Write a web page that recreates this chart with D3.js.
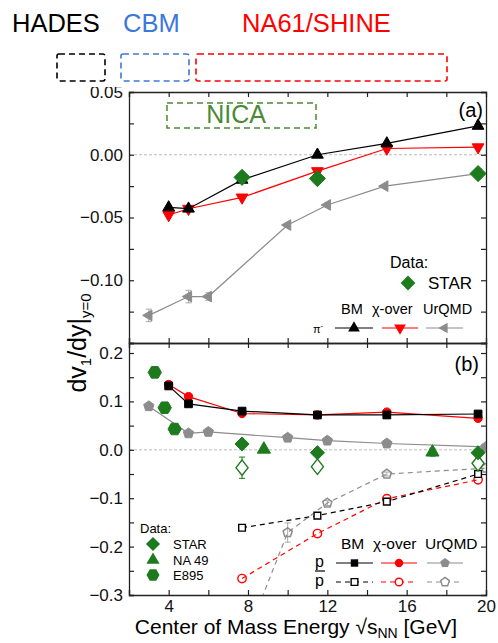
<!DOCTYPE html>
<html>
<head>
<meta charset="utf-8">
<script src="https://d3js.org/d3.v7.min.js"></script>
<style>
  body { margin: 0; background: #fff; }
  text { font-family: Arial, "Liberation Sans", sans-serif; }
</style>
</head>
<body>
<script>
  // ticks
  var xTicks = [2, 4, 6, 8, 10, 12, 14, 16, 18];
  var xLabels = [4, 8, 12, 16, 20];
  var yTicksA = [0.05, 0.025, 0, -0.025, -0.05, -0.075, -0.1, -0.125];
  var yLabelsA = [0.05, 0, -0.05, -0.1];
  var yTicksB = [0.2, 0.15, 0.1, 0.05, 0, -0.05, -0.1, -0.15, -0.2, -0.25];
  var yLabelsB = [0.2, 0.1, 0, -0.1, -0.2, -0.3];

  // panel (a): pi-  [sqrt(s_NN), dv1/dy]
  var piBM = [[4.0, -0.042], [5.0, -0.043], [7.7, -0.020], [11.5, 0.000], [15.0, 0.009], [19.6, 0.023]];
  var piChi = [[4.0, -0.048], [5.0, -0.043], [7.7, -0.034], [11.5, -0.013], [15.0, 0.005], [19.6, 0.006]];
  var piUrqmd = [[3.0, -0.128], [5.0, -0.113], [6.0, -0.113], [10.0, -0.056], [12.0, -0.040], [14.9, -0.025], [19.6, -0.015]];
  var piUrqmdErr = [0.005, 0.005, 0.003, 0, 0, 0, 0];
  var piStar = [[7.7, -0.018], [11.5, -0.019], [19.6, -0.015]];

  // panel (b): protons (solid) and antiprotons (dashed)
  var pBM = [[4.0, 0.132], [5.0, 0.095], [7.7, 0.080], [11.5, 0.072], [15.0, 0.072], [19.6, 0.074]];
  var pChi = [[4.0, 0.135], [5.0, 0.110], [7.7, 0.075], [11.5, 0.072], [15.0, 0.078], [19.6, 0.065]];
  var pUrqmd = [[3.0, 0.090], [5.0, 0.034], [6.0, 0.037], [10.0, 0.025], [12.0, 0.019], [15.0, 0.013], [20.0, 0.006]];
  var pbarBM = [[7.7, -0.161], [11.5, -0.136], [15.0, -0.107], [19.6, -0.050]];
  var pbarChi = [[7.7, -0.266], [11.5, -0.173], [15.0, -0.101], [19.6, -0.062]];
  var pbarUrqmd = [[7.7, -0.41], [10.0, -0.171], [12.0, -0.110], [15.0, -0.050], [20.0, -0.038]];
  var pbarUrqmdErr = [0, 0.02, 0.005, 0.004, 0];
  var pStar = [[7.7, 0.012], [11.5, -0.006], [19.6, -0.006]];
  var pNa49 = [[8.8, 0.001], [17.3, -0.005]];
  var pE895 = [[3.3, 0.160], [3.8, 0.087], [4.3, 0.043]];
  var pbarStar = [[7.7, -0.037], [11.5, -0.035], [19.6, -0.028]];
  var pbarStarErr = [0.022, 0.004, 0.005];

  // experiment labels above the plot
  var experiments = ["HADES", "CBM", "NA61/SHINE"];

  var GREEN = "#1d7a1d", RED = "#ff0000", GRAY = "#8c8c8c", BLUE = "#3c78d8";

  var svg = d3.select("body").append("svg")
    .attr("width", 498)
    .attr("height", 643);

  var x = d3.scaleLinear().domain([2, 20]).range([129, 486]);
  var yA = d3.scaleLinear().domain([-0.15, 0.05]).range([343, 92]);
  var yB = d3.scaleLinear().domain([-0.3, 0.2207]).range([595, 343]);

  // custom symbols
  function polySym(n, rot) {
    return { draw: function(ctx, size) {
      var r = Math.sqrt(size / (0.5 * n * Math.sin(2 * Math.PI / n)));
      for (var i = 0; i < n; i++) {
        var a = rot + i * 2 * Math.PI / n;
        if (i == 0) ctx.moveTo(r * Math.cos(a), r * Math.sin(a));
        else ctx.lineTo(r * Math.cos(a), r * Math.sin(a));
      }
      ctx.closePath();
    } };
  }
  var symDiamond = polySym(4, -Math.PI / 2);
  var symPentagon = polySym(5, -Math.PI / 2);
  var symHexagon = polySym(6, 0);

  function symPath(type, size) { return d3.symbol().type(type).size(size)(); }

  // clip paths
  var defs = svg.append("defs");
  defs.append("clipPath").attr("id", "clipA").append("rect")
    .attr("x", x(2)).attr("y", yA(0.05)).attr("width", x(20) - x(2)).attr("height", yA(-0.15) - yA(0.05));
  defs.append("clipPath").attr("id", "clipB").append("rect")
    .attr("x", x(2)).attr("y", yB(0.2207)).attr("width", x(20) - x(2)).attr("height", yB(-0.3) - yB(0.2207));

  function fmtA(d) { return yLabelsA.indexOf(d) >= 0 ? d3.format(".2f")(d) : ""; }
  function fmtB(d) { return yLabelsB.indexOf(d) >= 0 ? d3.format(".1f")(d) : ""; }

  function styleAxis(g) {
    g.select(".domain").attr("stroke", "#222").attr("stroke-width", 1.3);
    g.selectAll(".tick line").attr("stroke", "#222").attr("stroke-width", 1.2);
    g.selectAll(".tick text").attr("fill", "#111").style("font-size", "17px")
      .style("font-family", "Arial, 'Liberation Sans', sans-serif");
  }

  // zero lines
  svg.append("line").attr("x1", x(2)).attr("x2", x(20)).attr("y1", yA(0)).attr("y2", yA(0))
    .attr("stroke", "#aaa").attr("stroke-width", 0.8).attr("stroke-dasharray", "3,2");
  svg.append("line").attr("x1", x(2)).attr("x2", x(20)).attr("y1", yB(0)).attr("y2", yB(0))
    .attr("stroke", "#aaa").attr("stroke-width", 0.8).attr("stroke-dasharray", "3,2");

  // axes panel (a)
  svg.append("g").attr("transform", "translate(" + x(2) + ",0)")
    .call(d3.axisLeft(yA).tickValues(yTicksA).tickFormat(fmtA).tickSize(-5).tickPadding(6)).call(styleAxis);
  svg.append("g").attr("transform", "translate(" + x(20) + ",0)")
    .call(d3.axisRight(yA).tickValues(yTicksA).tickFormat("").tickSize(-5)).call(styleAxis);
  svg.append("g").attr("transform", "translate(0," + yA(0.05) + ")")
    .call(d3.axisTop(x).tickValues(xTicks).tickFormat("").tickSize(-5)).call(styleAxis);
  svg.append("g").attr("transform", "translate(0," + yA(-0.15) + ")")
    .call(d3.axisBottom(x).tickValues(xTicks).tickFormat("").tickSize(-5)).call(styleAxis);

  // axes panel (b)
  svg.append("g").attr("transform", "translate(" + x(2) + ",0)")
    .call(d3.axisLeft(yB).tickValues(yTicksB.concat([-0.3])).tickFormat(fmtB).tickSize(-5).tickPadding(6)).call(styleAxis);
  svg.append("g").attr("transform", "translate(" + x(20) + ",0)")
    .call(d3.axisRight(yB).tickValues(yTicksB).tickFormat("").tickSize(-5)).call(styleAxis);
  svg.append("g").attr("transform", "translate(0," + yB(0.2207) + ")")
    .call(d3.axisTop(x).tickValues(xTicks).tickFormat("").tickSize(-5)).call(styleAxis);
  svg.append("g").attr("transform", "translate(0," + yB(-0.3) + ")")
    .call(d3.axisBottom(x).tickValues(xTicks.concat([20])).tickFormat(function(d) {
      return xLabels.indexOf(d) >= 0 ? d : "";
    }).tickSize(-5).tickPadding(5)).call(styleAxis);

  // white band on top, cutting the 0.05 label like the original
  svg.append("rect").attr("x", 0).attr("y", 0).attr("width", 498).attr("height", 87).attr("fill", "#fff");

  // header: labels and dashed boxes
  var headX = [12, 123, 242];
  var headColor = ["#000", BLUE, RED];
  var boxX = [[57, 105], [121, 189], [196, 447]];
  svg.selectAll("text.head").data(experiments).enter().append("text")
    .attr("x", function(d, i) { return headX[i]; }).attr("y", 32)
    .style("font-size", "25.5px").attr("fill", function(d, i) { return headColor[i]; })
    .text(function(d) { return d; });
  svg.selectAll("rect.hbox").data(boxX).enter().append("rect")
    .attr("x", function(d) { return d[0]; })
    .attr("y", 54).attr("height", 27)
    .attr("width", function(d) { return d[1] - d[0]; })
    .attr("rx", 2)
    .attr("fill", "none").attr("stroke", function(d, i) { return headColor[i]; })
    .attr("stroke-width", 1.6).attr("stroke-dasharray", "6,4");

  // NICA box
  svg.append("rect").attr("x", 167).attr("y", 103).attr("width", 149).attr("height", 25)
    .attr("fill", "none").attr("stroke", "#4a8a36").attr("stroke-width", 1.5).attr("stroke-dasharray", "6,4");
  svg.append("text").attr("x", 236).attr("y", 123).attr("text-anchor", "middle")
    .style("font-size", "25px").attr("fill", "#4a8a36").text("NICA");

  svg.append("text").attr("x", 483).attr("y", 117).attr("text-anchor", "end").style("font-size", "20px").text("(a)");
  svg.append("text").attr("x", 479).attr("y", 371).attr("text-anchor", "end").style("font-size", "20px").text("(b)");

  // drawing helpers
  function drawLine(g, data, y, color, dash) {
    g.append("path").datum(data)
      .attr("fill", "none").attr("stroke", color).attr("stroke-width", 1.2)
      .attr("stroke-dasharray", dash ? "5,4" : null)
      .attr("d", d3.line().x(function(d) { return x(d[0]); }).y(function(d) { return y(d[1]); }));
  }
  function drawErr(g, data, err, y, color) {
    var rows = data.map(function(d, i) { return [d[0], d[1], err[i]]; })
      .filter(function(d) { return d[2] > 0; });
    g.selectAll(null).data(rows).enter().append("path")
      .attr("fill", "none").attr("stroke", color).attr("stroke-width", 1)
      .attr("d", function(d) {
        var cx = x(d[0]), y1 = y(d[1] + d[2]), y2 = y(d[1] - d[2]);
        return "M" + (cx - 3) + "," + y1 + "H" + (cx + 3) + "M" + cx + "," + y1 + "V" + y2 + "M" + (cx - 3) + "," + y2 + "H" + (cx + 3);
      });
  }
  function drawMarks(g, data, y, type, size, rot, fill, stroke, sw) {
    g.selectAll(null).data(data).enter().append("path")
      .attr("d", symPath(type, size))
      .attr("transform", function(d) { return "translate(" + x(d[0]) + "," + y(d[1]) + ") rotate(" + rot + ")"; })
      .attr("fill", fill).attr("stroke", stroke).attr("stroke-width", sw || 1);
  }

  // panel (a) data
  var gA = svg.append("g").attr("clip-path", "url(#clipA)");
  drawErr(gA, piUrqmd, piUrqmdErr, yA, "#aaa");
  drawLine(gA, piUrqmd, yA, GRAY);
  drawMarks(gA, piUrqmd, yA, d3.symbolTriangle, 50, -90, GRAY, GRAY);
  drawLine(gA, piChi, yA, RED);
  drawMarks(gA, piChi, yA, d3.symbolTriangle, 60, 180, RED, RED);
  drawLine(gA, piBM, yA, "#000");
  drawMarks(gA, piBM, yA, d3.symbolTriangle, 60, 0, "#000", "#000");
  drawMarks(gA, piStar, yA, symDiamond, 130, 0, GREEN, GREEN);

  // panel (b) data
  var gB = svg.append("g").attr("clip-path", "url(#clipB)");
  drawErr(gB, pbarUrqmd, pbarUrqmdErr, yB, "#aaa");
  drawLine(gB, pbarUrqmd, yB, GRAY, true);
  drawMarks(gB, pbarUrqmd, yB, symPentagon, 55, 0, "none", GRAY, 1.5);
  drawLine(gB, pbarChi, yB, RED, true);
  drawMarks(gB, pbarChi, yB, d3.symbolCircle, 55, 0, "none", RED, 1.4);
  drawLine(gB, pbarBM, yB, "#000", true);
  drawMarks(gB, pbarBM, yB, d3.symbolSquare, 45, 0, "#fff", "#000", 1.4);
  drawLine(gB, pUrqmd, yB, GRAY);
  drawMarks(gB, pUrqmd, yB, symPentagon, 70, 0, GRAY, GRAY);
  drawLine(gB, pChi, yB, RED);
  drawMarks(gB, pChi, yB, d3.symbolCircle, 55, 0, RED, RED);
  drawLine(gB, pBM, yB, "#000");
  drawMarks(gB, pBM, yB, d3.symbolSquare, 60, 0, "#000", "#000");
  drawErr(gB, pbarStar, pbarStarErr, yB, GREEN);
  gB.selectAll(null).data(pbarStar).enter().append("path")
    .attr("d", symPath(symDiamond, 90))
    .attr("transform", function(d) { return "translate(" + x(d[0]) + "," + yB(d[1]) + ") scale(0.9,1.15)"; })
    .attr("fill", "#fff").attr("stroke", GREEN).attr("stroke-width", 1.4);
  drawMarks(gB, pStar, yB, symDiamond, 100, 0, GREEN, GREEN);
  drawErr(gB, pNa49, [0, 0.008], yB, GREEN);
  drawMarks(gB, pNa49, yB, d3.symbolTriangle, 75, 0, GREEN, GREEN);
  drawMarks(gB, pE895, yB, symHexagon, 115, 0, GREEN, GREEN);

  // legend panel (a)
  svg.append("text").attr("x", 390).attr("y", 268).style("font-size", "16px").text("Data:");
  svg.append("path").attr("d", symPath(symDiamond, 110)).attr("transform", "translate(408,283)").attr("fill", GREEN);
  svg.append("text").attr("x", 428).attr("y", 289).style("font-size", "17px").text("STAR");
  var legHeadA = [["BM", 341], ["χ-over", 372], ["UrQMD", 423]];
  svg.selectAll(null).data(legHeadA).enter().append("text")
    .attr("x", function(d) { return d[1]; }).attr("y", 314).style("font-size", "14.5px")
    .text(function(d) { return d[0]; });
  var piLeg = svg.append("text").attr("x", 313).attr("y", 333).style("font-size", "11px");
  piLeg.append("tspan").text("π");
  piLeg.append("tspan").attr("dy", -5).style("font-size", "8px").text("-");
  var legRowA = [[335, 373, "#000", 0], [382, 418, RED, 180], [426, 463, GRAY, -90]];
  legRowA.forEach(function(d) {
    svg.append("line").attr("x1", d[0]).attr("x2", d[1]).attr("y1", 328).attr("y2", 328)
      .attr("stroke", d[2]).attr("stroke-width", 1.2);
    svg.append("path").attr("d", symPath(d3.symbolTriangle, d[3] == -90 ? 50 : 60))
      .attr("transform", "translate(" + ((d[0] + d[1]) / 2) + ",328) rotate(" + d[3] + ")").attr("fill", d[2]);
  });

  // legend panel (b)
  svg.append("text").attr("x", 140).attr("y", 533).style("font-size", "13px").text("Data:");
  var legData = [["STAR", symDiamond, 100, 544], ["NA 49", d3.symbolTriangle, 75, 560], ["E895", symHexagon, 110, 575]];
  legData.forEach(function(d) {
    svg.append("path").attr("d", symPath(d[1], d[2])).attr("transform", "translate(153," + d[3] + ")").attr("fill", GREEN);
    svg.append("text").attr("x", 173).attr("y", d[3] + 5).style("font-size", "13px").text(d[0]);
  });
  var legHeadB = [["BM", 341], ["χ-over", 373], ["UrQMD", 425]];
  svg.selectAll(null).data(legHeadB).enter().append("text")
    .attr("x", function(d) { return d[1]; }).attr("y", 549).style("font-size", "15.5px")
    .text(function(d) { return d[0]; });
  svg.append("text").attr("x", 315).attr("y", 567).style("font-size", "16px").text("p");
  svg.append("line").attr("x1", 315).attr("x2", 325).attr("y1", 571).attr("y2", 571).attr("stroke", "#000").attr("stroke-width", 1.2);
  svg.append("text").attr("x", 315).attr("y", 586).style("font-size", "16px").text("p");
  var legRowB = [[336, 373, "#000", d3.symbolSquare, 55], [381, 417, RED, d3.symbolCircle, 55], [427, 463, GRAY, symPentagon, 60]];
  legRowB.forEach(function(d) {
    var cx = (d[0] + d[1]) / 2;
    svg.append("line").attr("x1", d[0]).attr("x2", d[1]).attr("y1", 563).attr("y2", 563)
      .attr("stroke", d[2]).attr("stroke-width", 1.2);
    svg.append("path").attr("d", symPath(d[3], d[4])).attr("transform", "translate(" + cx + ",563)").attr("fill", d[2]);
    svg.append("line").attr("x1", d[0]).attr("x2", d[1]).attr("y1", 582).attr("y2", 582)
      .attr("stroke", d[2]).attr("stroke-width", 1.2).attr("stroke-dasharray", "5,4");
    svg.append("path").attr("d", symPath(d[3], d[4] - 10)).attr("transform", "translate(" + cx + ",582)")
      .attr("fill", "#fff").attr("stroke", d[2]).attr("stroke-width", 1.4);
  });

  // axis titles
  var xt = svg.append("text").attr("x", 296).attr("y", 634).attr("text-anchor", "middle").style("font-size", "21px");
  xt.append("tspan").text("Center of Mass Energy √s");
  xt.append("tspan").attr("dy", 4).style("font-size", "14px").text("NN");
  xt.append("tspan").attr("dy", -4).text(" [GeV]");

  var yt = svg.append("text").attr("transform", "translate(86,343) rotate(-90)")
    .attr("text-anchor", "middle").style("font-size", "25px");
  yt.append("tspan").text("dv");
  yt.append("tspan").attr("dy", 5).style("font-size", "15px").text("1");
  yt.append("tspan").attr("dy", -5).text("/dy|");
  yt.append("tspan").attr("dy", 5).style("font-size", "15px").text("y=0");
</script>
</body>
</html>
